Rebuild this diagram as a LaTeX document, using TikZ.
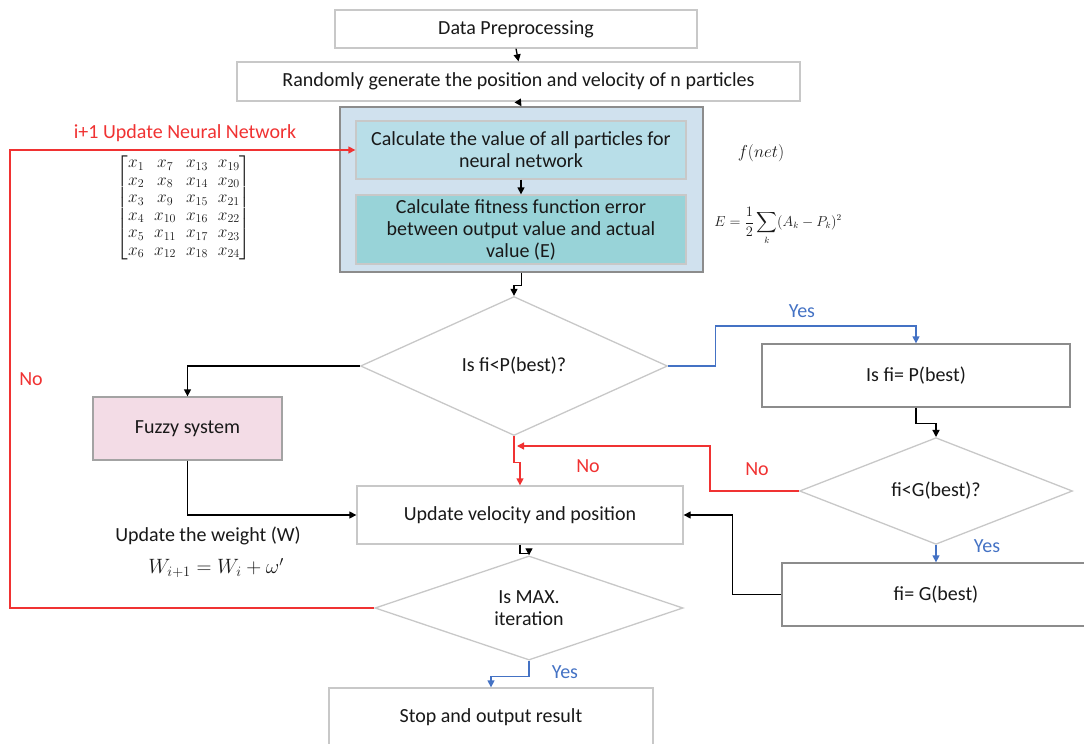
\documentclass[tikz,border=0pt]{standalone}
\usepackage{amsmath}
\usepackage{fontspec}
\setmainfont{Carlito}
\usetikzlibrary{shapes.geometric,arrows.meta,calc}

\definecolor{lnred}{RGB}{240,50,50}
\definecolor{lnblue}{RGB}{68,114,196}
\definecolor{edgelight}{RGB}{200,200,200}
\definecolor{edgedark}{RGB}{140,140,140}
\definecolor{outerfill}{RGB}{208,225,238}
\definecolor{calcfill}{RGB}{184,222,232}
\definecolor{fitfill}{RGB}{152,211,216}
\definecolor{fuzzfill}{RGB}{243,220,230}
\definecolor{txt}{RGB}{25,25,25}

\tikzset{
  every node/.style={text=txt, font=\fontsize{20}{22}\selectfont},
  box/.style={draw=edgelight, line width=1.3pt, fill=white, rectangle, inner sep=0pt, align=center},
  darkbox/.style={box, draw=edgedark},
  decision/.style={diamond, draw=edgelight, line width=1.3pt, fill=white, inner sep=0pt, align=center},
  arr/.style={line width=1.3pt, draw=black, -{Triangle[length=7pt,width=7pt]}},
  redarr/.style={arr, draw=lnred},
  bluearr/.style={arr, draw=lnblue},
  redlbl/.style={text=lnred},
  bluelbl/.style={text=lnblue},
}

\begin{document}
\begin{tikzpicture}[x=1pt,y=-1pt]
\useasboundingbox (0,0) rectangle (1084,744);

% process boxes
\node[box, minimum width=362pt, minimum height=38pt] (dp) at (516,29) {Data Preprocessing};
\node[box, minimum width=563pt, minimum height=39pt] (rg) at (518.5,81.5) {Randomly generate the position and velocity of n particles};
\node[darkbox, fill=outerfill, minimum width=363pt, minimum height=165pt] (outer) at (521.5,189.5) {};
\node[box, fill=calcfill, minimum width=330pt, minimum height=58pt] (c1) at (521,150) {Calculate the value of all particles for\\neural network};
\node[box, fill=fitfill, minimum width=330pt, minimum height=69pt] (c2) at (521,229.5) {Calculate fitness function error\\between output value and actual\\value (E)};

\node[decision, minimum width=307pt, minimum height=139pt] (d1) at (514,366) {Is fi<P(best)?};
\node[darkbox, fill=fuzzfill, draw=edgedark!80, minimum width=189pt, minimum height=63pt] (fuzzy) at (187.5,428.5) {Fuzzy system};
\node[darkbox, minimum width=308pt, minimum height=63pt] (pb) at (916,375.5) {Is fi= P(best)};
\node[decision, minimum width=273pt, minimum height=103pt] (d2) at (936,491) {fi<G(best)?};
\node[box, minimum width=326pt, minimum height=58pt] (upd) at (520,515) {Update velocity and position};
\node[darkbox, minimum width=308pt, minimum height=63pt] (gb) at (936,594.5) {fi= G(best)};
\node[decision, minimum width=308pt, minimum height=95pt] (d3) at (529,608) {Is MAX.\\iteration};
\node[box, minimum width=324pt, minimum height=58pt] (stop) at (491,717) {Stop and output result};

% formulas and notes
\node (fnet) at (761,153) {\fontsize{19}{22}\selectfont$f(net)$};
\node (err) at (778,226) {\fontsize{13.5}{16}\selectfont$E=\dfrac{1}{2}\displaystyle\sum_{k}(A_k-P_k)^2$};
\node (wt) at (208,536) {Update the weight (W)};
\node (wform) at (216,568) {\fontsize{20}{22}\selectfont$W_{i+1}=W_i+\omega'$};
\node (mat) at (184,208) {\fontsize{16.5}{17.5}\selectfont$\begin{bmatrix}
x_1 & x_7 & x_{13} & x_{19}\\
x_2 & x_8 & x_{14} & x_{20}\\
x_3 & x_9 & x_{15} & x_{21}\\
x_4 & x_{10} & x_{16} & x_{22}\\
x_5 & x_{11} & x_{17} & x_{23}\\
x_6 & x_{12} & x_{18} & x_{24}
\end{bmatrix}$};

% helper points for the loop-back lines
\coordinate (lft) at (10,0);
\coordinate (join) at (517,446);

% main flow
\draw[arr] (dp.south) -- (rg.north);
\draw[arr] (rg.south) -- (outer.north);
\draw[arr] (c1.south) -- (c2.north);
\draw[arr] (outer.south) -- ++(0,13) -| (d1.north);

\draw[arr] (d1.west) -| (fuzzy.north);
\draw[arr] (fuzzy.south) |- (upd.west);

\draw[bluearr] (d1.east) -- ++(47,0) -- ++(0,-40) -| (pb.north);
\draw[arr] (pb.south) -- ++(0,16) -| (d2.north);
\draw[bluearr] (d2.south) -- (gb.north);
\draw[arr] (gb.west) -- ++(-49,0) |- (upd.east);

\draw[redarr] (d1.south) -- ++(0,26) -| (upd.north);
\draw[redarr] (d2.west) -- ++(-89,0) |- (join);

\draw[arr] (upd.south) -- ++(0,9) -| (d3.north);
\draw[bluearr] (d3.south) -- ++(0,16) -| (stop.north);
\draw[redarr] (d3.west) -- (d3.west -| lft) -- (lft |- c1.west) -- (c1.west);

% branch labels
\node[bluelbl] (y1) at (802,311) {Yes};
\node[redlbl] (n1) at (588,466) {No};
\node[redlbl] (n2) at (757,469) {No};
\node[bluelbl] (y2) at (987,546) {Yes};
\node[bluelbl] (y3) at (565,672) {Yes};
\node[redlbl] (n3) at (31,379) {No};
\node[redlbl] (loop) at (185,133) {i+1 Update Neural Network};
\end{tikzpicture}
\end{document}
